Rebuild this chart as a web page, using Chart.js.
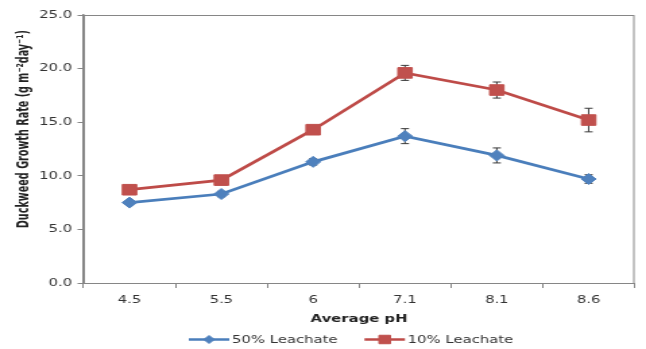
<!DOCTYPE html>
<html>
<head>
<meta charset="utf-8">
<script src="https://cdn.jsdelivr.net/npm/chart.js@4/dist/chart.umd.min.js"></script>
<style>
  html, body { margin: 0; padding: 0; background: #ffffff; overflow: hidden; }
  /* the drawing is laid out on a narrower bitmap and shown stretched to full width */
  #wrap { width: 479px; height: 349px; transform: scaleX(1.34864); transform-origin: 0 0; }
  #chart { display: block; }
</style>
</head>
<body>
<div id="wrap"><canvas id="chart" width="479" height="349"></canvas></div>
<script>
// Average pH groups on the x axis
const categories = ['4.5', '5.5', '6', '7.1', '8.1', '8.6'];

// Duckweed growth rate (g m-2 day-1) for each leachate strength
const leachate50 = [7.5, 8.3, 11.3, 13.7, 11.9, 9.7];
const leachate10 = [8.7, 9.6, 14.3, 19.6, 18.0, 15.2];

// Standard error of each mean
const err50 = [0.2, 0.25, 0.3, 0.7, 0.7, 0.4];
const err10 = [0.25, 0.3, 0.3, 0.7, 0.75, 1.1];

// Y axis range and step
const yMin = 0;
const yMax = 25;
const yStep = 5;

const seriesNames = ['50% Leachate', '10% Leachate'];
const xTitle = 'Average pH';
const yTitle = 'Duckweed Growth Rate (g m⁻²day⁻¹)';

const BLUE_LINE = '#4A7EBB';
const BLUE_FILL = '#4F81BD';
const RED_LINE = '#BE4B48';
const RED_FILL = '#C0504D';
const AXIS = '#868686';
const TEXT = '#333333';

// vertical error bars with caps, drawn beneath the markers
const errorBars = {
  id: 'errorBars',
  beforeDatasetsDraw(chart) {
    const { ctx } = chart;
    const y = chart.scales.y;
    ctx.save();
    ctx.strokeStyle = '#3a3a3a';
    ctx.lineWidth = 1;
    chart.data.datasets.forEach((ds, i) => {
      const meta = chart.getDatasetMeta(i);
      meta.data.forEach((pt, j) => {
        const v = ds.data[j];
        const e = ds.errors[j];
        const top = y.getPixelForValue(v + e);
        const bot = y.getPixelForValue(v - e);
        const cap = 3;
        ctx.beginPath();
        ctx.moveTo(pt.x, top); ctx.lineTo(pt.x, bot);
        ctx.moveTo(pt.x - cap, top); ctx.lineTo(pt.x + cap, top);
        ctx.moveTo(pt.x - cap, bot); ctx.lineTo(pt.x + cap, bot);
        ctx.stroke();
      });
    });
    ctx.restore();
  }
};

// outline round the plot area
const plotFrame = {
  id: 'plotFrame',
  beforeDatasetsDraw(chart) {
    const { ctx, chartArea: a } = chart;
    ctx.save();
    ctx.strokeStyle = AXIS;
    ctx.lineWidth = 1;
    ctx.strokeRect(a.left + 0.5, a.top + 0.5, a.right - a.left - 1, a.bottom - a.top);
    ctx.restore();
  }
};

// rotated, narrow bold title beside the value axis
const valueAxisTitle = {
  id: 'valueAxisTitle',
  afterDraw(chart) {
    const { ctx, chartArea: a } = chart;
    const span = 198;
    ctx.save();
    ctx.font = 'bold 13px "DejaVu Sans", sans-serif';
    if ('fontStretch' in ctx) ctx.fontStretch = 'condensed';
    const w = ctx.measureText(yTitle).width;
    const k = Math.min(1, span / w);
    ctx.translate(a.left - 44, a.top + (a.bottom - a.top) * 0.426);
    ctx.rotate(-Math.PI / 2);
    ctx.scale(k, 1);
    ctx.fillStyle = '#222222';
    ctx.textAlign = 'center';
    ctx.textBaseline = 'middle';
    ctx.fillText(yTitle, 0, 0);
    ctx.restore();
  }
};

function drawMarker(ctx, style, x, y, r, fill, stroke) {
  ctx.beginPath();
  if (style === 'rectRot') {
    ctx.moveTo(x - r, y); ctx.lineTo(x, y - r); ctx.lineTo(x + r, y); ctx.lineTo(x, y + r);
  } else {
    const s = Math.SQRT1_2 * r;
    ctx.rect(x - s, y - s, 2 * s, 2 * s);
  }
  ctx.closePath();
  ctx.fillStyle = fill;
  ctx.fill();
  ctx.strokeStyle = stroke;
  ctx.lineWidth = 1;
  ctx.stroke();
}

// line-and-marker legend along the bottom
const lineLegend = {
  id: 'lineLegend',
  afterDraw(chart) {
    const { ctx, chartArea: a } = chart;
    const font = '11px "DejaVu Sans", sans-serif';
    const lineLen = 30, textGap = 2, itemGap = 20;
    ctx.save();
    ctx.font = font;
    const items = chart.data.datasets.map(ds => ({
      ds, w: lineLen + textGap + ctx.measureText(ds.label).width
    }));
    const total = items.reduce((s, it) => s + it.w, 0) + itemGap * (items.length - 1);
    let x = (a.left + a.right) / 2 - 6 - total / 2;
    const y = chart.height - 9.5;
    items.forEach(it => {
      const ds = it.ds;
      ctx.strokeStyle = ds.borderColor;
      ctx.lineWidth = 2.5;
      ctx.beginPath();
      ctx.moveTo(x, y); ctx.lineTo(x + lineLen, y);
      ctx.stroke();
      drawMarker(ctx, ds.pointStyle, x + lineLen / 2, y,
        ds.pointStyle === 'rectRot' ? 4 : 6, ds.pointBackgroundColor, ds.pointBorderColor);
      ctx.fillStyle = TEXT;
      ctx.textAlign = 'left';
      ctx.textBaseline = 'middle';
      ctx.fillText(ds.label, x + lineLen + textGap, y + 0.5);
      x += it.w + itemGap;
    });
    ctx.restore();
  }
};

new Chart(document.getElementById('chart'), {
  type: 'line',
  data: {
    labels: categories,
    datasets: [
      {
        label: seriesNames[0],
        data: leachate50,
        errors: err50,
        borderColor: BLUE_LINE,
        borderWidth: 2.75,
        pointStyle: 'rectRot',
        pointRadius: 5.5,
        pointHoverRadius: 5.5,
        pointBackgroundColor: BLUE_FILL,
        pointBorderColor: BLUE_FILL,
        pointBorderWidth: 1,
        tension: 0,
        fill: false
      },
      {
        label: seriesNames[1],
        data: leachate10,
        errors: err10,
        borderColor: RED_LINE,
        borderWidth: 2.75,
        pointStyle: 'rect',
        pointRadius: 7.5,
        pointHoverRadius: 7.5,
        pointBackgroundColor: RED_FILL,
        pointBorderColor: RED_FILL,
        pointBorderWidth: 1,
        tension: 0,
        fill: false
      }
    ]
  },
  options: {
    responsive: false,
    devicePixelRatio: 1,
    animation: false,
    events: [],
    layout: { padding: { top: 15, right: 5, bottom: 19, left: 0 } },
    plugins: {
      legend: { display: false },
      tooltip: { enabled: false }
    },
    scales: {
      x: {
        offset: true,
        grid: {
          offset: true,
          drawOnChartArea: false,
          color: AXIS,
          tickLength: 5,
          tickColor: AXIS
        },
        border: { color: AXIS, width: 1 },
        ticks: {
          color: TEXT,
          padding: 6,
          font: { family: '"DejaVu Sans", sans-serif', size: 11 }
        },
        title: {
          display: true,
          text: xTitle,
          color: '#222222',
          padding: { top: 0, bottom: 4 },
          font: { family: '"DejaVu Sans", sans-serif', size: 11, weight: 'bold' }
        },
        afterFit(scale) { scale.height = 47; }
      },
      y: {
        min: yMin,
        max: yMax,
        grid: {
          drawOnChartArea: false,
          color: AXIS,
          tickLength: 4.5,
          tickColor: AXIS
        },
        border: { color: AXIS, width: 1.5 },
        ticks: {
          stepSize: yStep,
          color: TEXT,
          padding: 4,
          font: { family: '"DejaVu Sans", sans-serif', size: 11 },
          callback: v => Number(v).toFixed(1)
        },
        title: { display: false },
        afterFit(scale) { scale.width = 62; }
      }
    }
  },
  plugins: [plotFrame, errorBars, valueAxisTitle, lineLegend]
});
</script>
</body>
</html>
